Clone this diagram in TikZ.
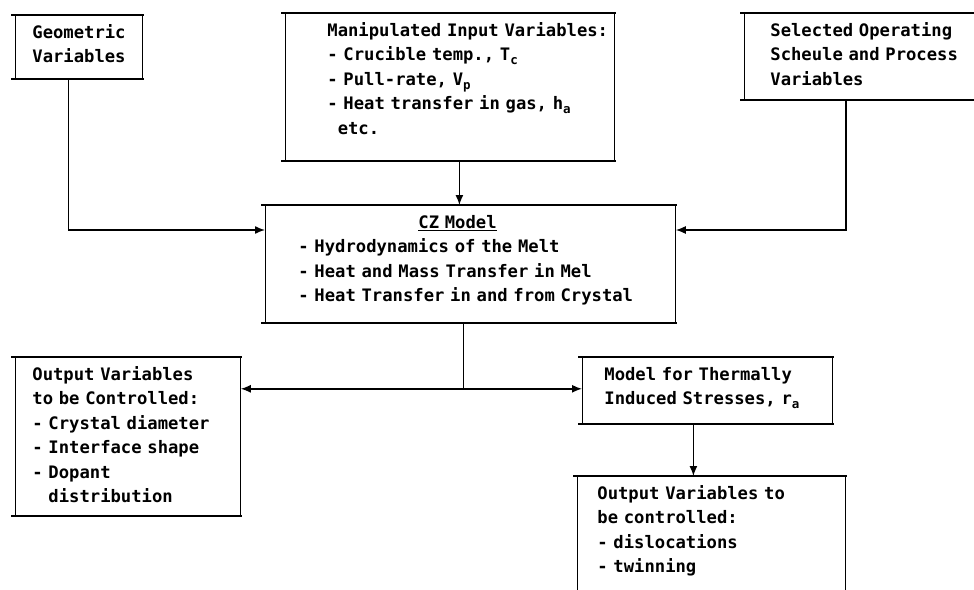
\documentclass[tikz,border=0pt]{standalone}
\usepackage{fontspec}
\setmonofont{DejaVu Sans Mono}
\usetikzlibrary{arrows.meta,positioning,calc}
\newcommand{\subix}[1]{\raisebox{-4pt}{\fontsize{12.5}{12.5}\selectfont #1}}
\tikzset{
  >=Latex,
  every node/.style={font=\ttfamily\bfseries\fontsize{17.2}{24.5}\selectfont},
  panel/.style={anchor=north west,draw,line width=0.8pt,inner sep=0pt,align=left,text height=23pt},
  padl/.style={execute at begin node={\leftskip=#1}},
  boxrule/.style={line width=2.2pt},
  flow/.style={-{Latex[length=10pt,width=8pt]},line width=1.4pt},
  feed/.style={line width=1.4pt}
}
\begin{document}
\begin{tikzpicture}[x=1pt,y=-1pt]
  \useasboundingbox (0,0) rectangle (974,589);
  \clip (0,0) rectangle (974,589);

  % inputs
  \node[panel,text width=127pt,text depth=40pt,padl=17pt] (geo) at (15,15)
    {Geometric\\Variables};
  \node[panel,text width=329pt,text depth=124pt,padl=42pt] (manip) at (285,13)
    {Manipulated Input Variables:\\- Crucible temp., T\subix{c}\\- Pull-rate, V\subix{p}\\- Heat transfer in gas, h\subix{a}\\\phantom{-}etc.};
  \node[panel,text width=250pt,text depth=63pt,padl=26pt] (sel) at (744,13)
    {Selected Operating\\Scheule and Process\\Variables};

  % model
  \node[panel,text width=410pt,text depth=94pt,padl=33pt] (cz) at (265,205)
    {\hspace*{120pt}\underline{CZ Model}\\- Hydrodynamics of the Melt\\- Heat and Mass Transfer in Mel\\- Heat Transfer in and from Crystal};

  % outputs
  \node[panel,text width=225pt,text depth=135pt,padl=17pt] (outl) at (15,357)
    {Output Variables\\to be Controlled:\\- Crystal diameter\\- Interface shape\\- Dopant\\\phantom{- }distribution};
  \node[panel,text width=250pt,text depth=43pt,padl=22pt] (therm) at (582,357)
    {Model for Thermally\\Induced Stresses, r\subix{a}};
  \node[panel,text width=268pt,text depth=117pt,padl=20pt] (outr) at (577,476)
    {Output Variables to\\be controlled:\\- dislocations\\- twinning};

  \foreach \b in {geo,manip,sel,cz,outl,therm,outr} {
    \draw[boxrule] ([xshift=-4pt]\b.north west) -- ([xshift=1pt]\b.north east);
    \draw[boxrule] ([xshift=-4pt]\b.south west) -- ([xshift=1pt]\b.south east);
  }

  % connectors
  \draw[flow] ([xshift=-10.5pt]geo.south) |- ([yshift=-25pt]cz.north west);
  \draw[flow] ([xshift=9.5pt]manip.south) -- ([xshift=9.5pt]manip.south |- cz.north);
  \draw[flow] ([xshift=102pt]sel.south west) |- ([yshift=-25pt]cz.north east);
  \draw[feed] ([xshift=-7pt]cz.south) -- ++(0,66) coordinate (split);
  \draw[flow] (split) -- (split -| outl.east);
  \draw[flow] (split) -- (split -| therm.west);
  \draw[flow] ([xshift=-14pt]therm.south) -- ([xshift=-14pt]therm.south |- outr.north);
\end{tikzpicture}
\end{document}
